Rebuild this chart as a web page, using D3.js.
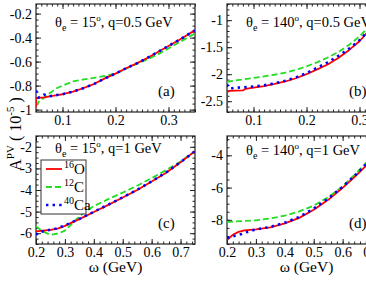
<!DOCTYPE html>
<html><head><meta charset="utf-8">
<script src="https://cdn.jsdelivr.net/npm/d3@7"></script>
<style>
html,body{margin:0;padding:0;background:#fff;overflow:hidden;}
text{font-family:"Liberation Serif","Times New Roman",serif;fill:#000;}
</style></head>
<body><svg id="c" width="366" height="283"></svg>
<script>
// ---------- data ----------
const seriesNames = ["16O", "12C", "40Ca"];
// panel (a): theta=15, q=0.5
const aX_O  = [0.05,0.05,0.055,0.065,0.075,0.09,0.1,0.12,0.14,0.16,0.18,0.2,0.22,0.24,0.26,0.28,0.3,0.32,0.34,0.35];
const aY_O  = [-0.98,-0.905,-0.90,-0.90,-0.89,-0.88,-0.872,-0.85,-0.82,-0.785,-0.74,-0.70,-0.655,-0.615,-0.57,-0.52,-0.47,-0.42,-0.365,-0.34];
const aX_C  = [0.05,0.055,0.065,0.075,0.09,0.1,0.12,0.14,0.16,0.18,0.2,0.22,0.24,0.26,0.28,0.3,0.32,0.34,0.35];
const aY_C  = [-0.97,-0.935,-0.90,-0.865,-0.82,-0.80,-0.765,-0.748,-0.735,-0.72,-0.70,-0.66,-0.62,-0.58,-0.54,-0.49,-0.44,-0.39,-0.365];
const aX_Ca = [0.05,0.055,0.065,0.075,0.09,0.1,0.12,0.14,0.16,0.18,0.2,0.22,0.24,0.26,0.28,0.3,0.32,0.34,0.35];
const aY_Ca = [-0.84,-0.90,-0.875,-0.89,-0.878,-0.872,-0.85,-0.82,-0.785,-0.74,-0.70,-0.655,-0.615,-0.57,-0.52,-0.47,-0.42,-0.365,-0.34];
// panel (b): theta=140, q=0.5
const bX_O  = [0.05,0.05,0.055,0.08,0.085,0.1,0.12,0.14,0.16,0.18,0.2,0.22,0.24,0.26,0.28,0.3,0.32,0.35];
const bY_O  = [-2.63,-2.33,-2.31,-2.30,-2.27,-2.25,-2.22,-2.18,-2.135,-2.075,-2.0,-1.91,-1.82,-1.70,-1.555,-1.39,-1.17,-0.83];
const bX_C  = [0.05,0.07,0.1,0.12,0.14,0.16,0.18,0.2,0.22,0.24,0.26,0.28,0.3,0.32,0.35];
const bY_C  = [-2.14,-2.11,-2.07,-2.04,-2.01,-1.97,-1.92,-1.855,-1.78,-1.69,-1.59,-1.46,-1.30,-1.10,-0.78];
const bX_Ca = [0.05,0.055,0.065,0.08,0.1,0.12,0.14,0.16,0.18,0.2,0.22,0.24,0.26,0.28,0.3,0.32,0.35];
const bY_Ca = [-2.19,-2.27,-2.25,-2.245,-2.23,-2.205,-2.17,-2.12,-2.06,-1.98,-1.88,-1.78,-1.66,-1.53,-1.37,-1.16,-0.82];
// panel (c): theta=15, q=1
const cX_O  = [0.2,0.225,0.25,0.275,0.3,0.325,0.35,0.4,0.45,0.5,0.55,0.6,0.65,0.7,0.75];
const cY_O  = [-5.92,-5.88,-5.85,-5.79,-5.66,-5.50,-5.35,-5.02,-4.69,-4.35,-4.0,-3.61,-3.2,-2.72,-2.2];
const cX_C  = [0.2,0.22,0.24,0.26,0.28,0.3,0.32,0.34,0.36,0.38,0.4,0.45,0.5,0.55,0.6,0.65,0.7,0.75];
const cY_C  = [-5.69,-5.88,-6.02,-6.06,-6.0,-5.88,-5.62,-5.35,-5.12,-4.92,-4.75,-4.42,-4.12,-3.8,-3.45,-3.08,-2.68,-2.2];
const cX_Ca = [0.2,0.21,0.25,0.275,0.3,0.325,0.35,0.4,0.45,0.5,0.55,0.6,0.65,0.7,0.75];
const cY_Ca = [-6.08,-5.95,-5.84,-5.77,-5.64,-5.49,-5.34,-5.01,-4.68,-4.34,-3.99,-3.60,-3.19,-2.71,-2.2];
// panel (d): theta=140, q=1
const dX_O  = [0.2,0.22,0.24,0.26,0.3,0.35,0.4,0.45,0.5,0.55,0.6,0.65,0.7,0.75];
const dY_O  = [-9.25,-8.93,-8.75,-8.66,-8.59,-8.47,-8.22,-7.88,-7.38,-6.76,-6.02,-5.2,-4.3,-3.3];
const dX_C  = [0.2,0.25,0.3,0.35,0.4,0.45,0.5,0.55,0.6,0.65,0.7,0.75];
const dY_C  = [-8.14,-8.08,-8.03,-7.92,-7.74,-7.48,-7.12,-6.6,-5.92,-5.05,-4.1,-3.1];
const dX_Ca = [0.2,0.225,0.25,0.27,0.3,0.35,0.4,0.45,0.5,0.55,0.6,0.65,0.7,0.75];
const dY_Ca = [-9.13,-9.0,-8.88,-8.75,-8.6,-8.44,-8.18,-7.82,-7.3,-6.68,-5.95,-5.12,-4.22,-3.22];

// tick labels
const xTicksLow  = [0.1,0.2,0.3];
const xTicksHigh = [0.2,0.3,0.4,0.5,0.6,0.7];
const yTicksA = [-1,-0.8,-0.6,-0.4,-0.2];
const yTicksB = [-2.5,-2,-1.5,-1];
const yTicksC = [-6,-5,-4,-3,-2];
const yTicksD = [-8,-6,-4];

const titlesAngle = ["15","140","15","140"];
const titlesQ = ["0.5","0.5","1","1"];
const panelTags = ["(a)","(b)","(c)","(d)"];

// ---------- layout ----------
const svg = d3.select("#c");
const colors = ["#ff0000","#22dd22","#0000ff"];
const dashes = [null,"6,3","2.4,4.2"];
const widths = [1.8,1.8,2.6];

function rng(a,b,s){const r=[];for(let v=a;v<=b+1e-9;v+=s)r.push(+v.toFixed(4));return r;}

const panels = [
 {x0:36,y0:4,xd:[0.05,0.35],yd:[-1.02,-0.12],xt:xTicksLow,xm:rng(0.05,0.35,0.01),yt:yTicksA,ym:rng(-1,-0.15,0.05),
  data:[[aX_O,aY_O],[aX_C,aY_C],[aX_Ca,aY_Ca]]},
 {x0:227,y0:4,xd:[0.05,0.35],yd:[-2.7,-0.7],xt:xTicksLow,xm:rng(0.05,0.35,0.01),yt:yTicksB,ym:rng(-2.7,-0.7,0.1),
  data:[[bX_O,bY_O],[bX_C,bY_C],[bX_Ca,bY_Ca]]},
 {x0:36,y0:136,xd:[0.2,0.75],yd:[-6.5,-1.5],xt:xTicksHigh,xm:rng(0.2,0.74,0.02),yt:yTicksC,ym:rng(-6.5,-1.5,0.25),
  data:[[cX_O,cY_O],[cX_C,cY_C],[cX_Ca,cY_Ca]]},
 {x0:227,y0:136,xd:[0.2,0.75],yd:[-9.5,-2.8],xt:xTicksHigh,xm:rng(0.2,0.74,0.02),yt:yTicksD,ym:rng(-9.5,-3,0.5),
  data:[[dX_O,dY_O],[dX_C,dY_C],[dX_Ca,dY_Ca]]}
];
const PW=159, PH=108;

panels.forEach((p,i)=>{
  const g = svg.append("g").attr("transform",`translate(${p.x0},${p.y0})`);
  const x = d3.scaleLinear().domain(p.xd).range([0,PW]);
  const y = d3.scaleLinear().domain(p.yd).range([PH,0]);
  const cid="clip"+i;
  g.append("clipPath").attr("id",cid).append("rect").attr("width",PW).attr("height",PH);
  const fmt = d=>(d<0?"-":"")+d3.format("")(Math.abs(d));
  const mk = (ax,vals,size,lab,pad)=>ax.tickValues(vals).tickSize(-size).tickPadding(lab?pad:0).tickFormat(lab?fmt:"");
  g.append("g").attr("transform",`translate(0,${PH})`).call(mk(d3.axisBottom(x),p.xm,2.5,false,0));
  const xb2=g.append("g").attr("transform",`translate(0,${PH})`).call(mk(d3.axisBottom(x),p.xt,5,true,2));
  const xt=g.append("g").call(mk(d3.axisTop(x),p.xm,2.5,false,0));
  const xt2=g.append("g").call(mk(d3.axisTop(x),p.xt,5,false,0));
  g.append("g").call(mk(d3.axisLeft(y),p.ym,2.5,false,0));
  g.append("g").call(mk(d3.axisLeft(y),p.yt,5,true,4));
  const yr=g.append("g").attr("transform",`translate(${PW},0)`).call(mk(d3.axisRight(y),p.ym,2.5,false,0));
  const yr2=g.append("g").attr("transform",`translate(${PW},0)`).call(mk(d3.axisRight(y),p.yt,5,false,0));
  g.selectAll(".domain").remove();
  g.selectAll(".tick line").attr("stroke","#222").attr("stroke-width",1);
  g.selectAll(".tick text").attr("font-size","14px").attr("font-family","Liberation Serif, serif").attr("fill","#000");
  xb2.selectAll(".tick text").attr("dy","0.75em");
  [xt,xt2,yr,yr2].forEach(s=>s.selectAll(".tick text").remove());
  g.append("rect").attr("width",PW).attr("height",PH).attr("fill","none").attr("stroke","#222").attr("stroke-width",1.2);

  // curves
  const line = d3.line().x(d=>x(d[0])).y(d=>y(d[1]));
  const cg = g.append("g").attr("clip-path",`url(#${cid})`);
  [1,0,2].forEach(k=>{
    const [xs,ys]=p.data[k];
    cg.append("path").datum(xs.map((v,j)=>[v,ys[j]])).attr("d",line)
      .attr("fill","none").attr("stroke",colors[k]).attr("stroke-width",widths[k])
      .attr("stroke-dasharray",dashes[k]).attr("stroke-linejoin","round");
  });

  // title
  const t = g.append("text").attr("x",19).attr("y",i<2?23:(i===2?17:19)).attr("font-size","14.5px");
  t.append("tspan").text("θ");
  t.append("tspan").attr("font-size","10px").attr("dy",4).text("e");
  t.append("tspan").attr("dy",-4).text(" = "+titlesAngle[i]);
  t.append("tspan").attr("font-size","9px").attr("dy",-6).text("o");
  t.append("tspan").attr("dy",6).text(", q="+titlesQ[i]+" GeV");
  // tag
  g.append("text").attr("x",122).attr("y",PH-16).attr("font-size","15px").text(panelTags[i]);
  // x label
  if(i>=2){
    g.append("text").attr("x",PW/2).attr("y",PH+28).attr("text-anchor","middle")
     .attr("font-size","15.5px").text("ω (GeV)");
  }
  // legend
  if(i===2){
    const lg=g.append("g").attr("transform","translate(5,24)");
    lg.append("rect").attr("width",45).attr("height",54).attr("fill","#fff").attr("stroke","#333").attr("stroke-width",1);
    seriesNames.forEach((nm,k)=>{
      const yy=9+k*18;
      lg.append("line").attr("x1",5).attr("x2",21).attr("y1",yy).attr("y2",yy)
        .attr("stroke",colors[k]).attr("stroke-width",widths[k]).attr("stroke-dasharray",dashes[k]);
      const m = nm.match(/^(\d+)(\D+)$/);
      const tx=lg.append("text").attr("x",23).attr("y",yy+5).attr("font-size","15px");
      tx.append("tspan").attr("font-size","10px").attr("dy",-6).text(m[1]);
      tx.append("tspan").attr("dy",6).text(m[2]);
    });
  }
});

// y label
const yl = svg.append("text").attr("transform","translate(21,134) rotate(-90)")
  .attr("text-anchor","middle").attr("font-size","16px");
yl.append("tspan").text("A");
yl.append("tspan").attr("font-size","11px").attr("dy",-7).text("PV");
yl.append("tspan").attr("dy",7).text(" ( 10");
yl.append("tspan").attr("font-size","11px").attr("dy",-7).text("-5");
yl.append("tspan").attr("dy",7).text(" )");
</script></body></html>
